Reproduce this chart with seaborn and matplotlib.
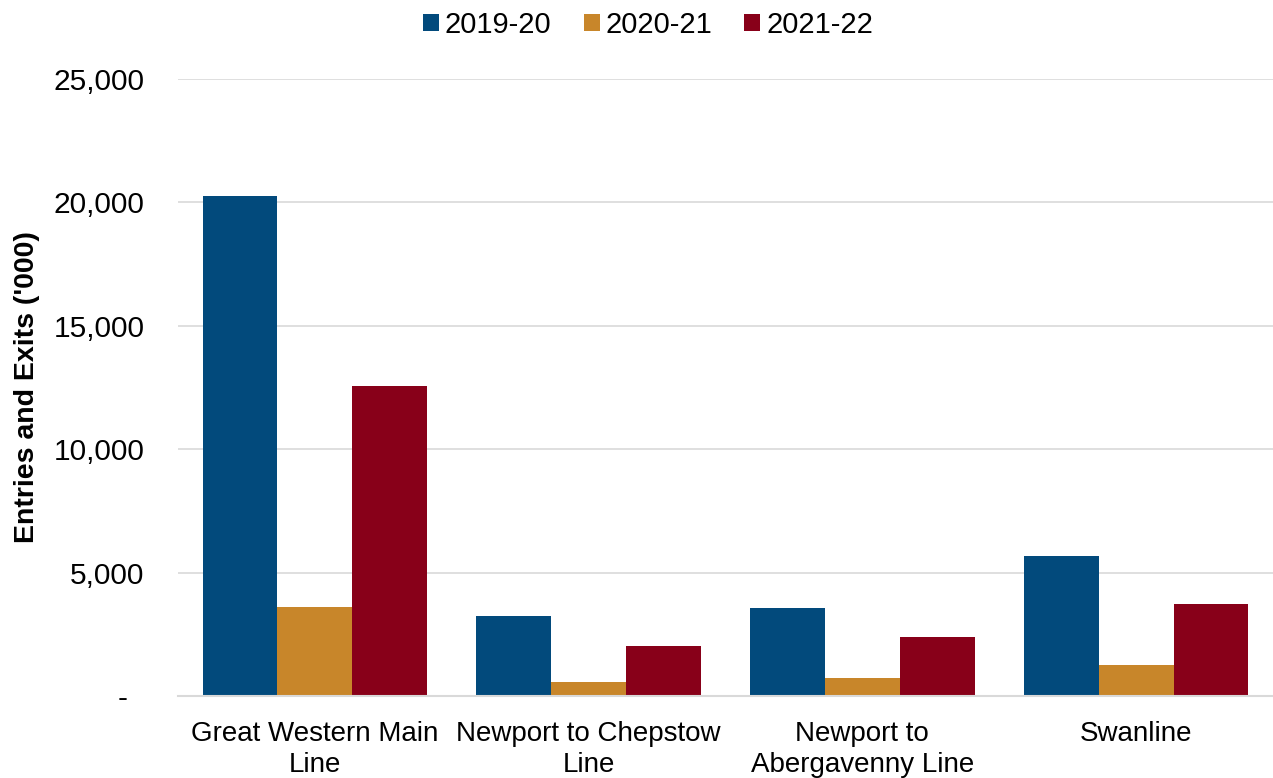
import pandas as pd
import matplotlib.pyplot as plt
import seaborn as sns
from matplotlib.ticker import FuncFormatter

lines = ["Great Western Main\nLine", "Newport to Chepstow\nLine",
         "Newport to\nAbergavenny Line", "Swanline"]
years = ["2019-20", "2020-21", "2021-22"]
v_2019_20 = [20250, 3250, 3580, 5680]
v_2020_21 = [3600, 570, 740, 1260]
v_2021_22 = [12560, 2030, 2390, 3730]
colors = ["#024A7C", "#C8862A", "#880019"]

df = pd.DataFrame({
    "Line": lines * 3,
    "Year": [y for y in years for _ in lines],
    "Value": v_2019_20 + v_2020_21 + v_2021_22,
})

sns.set_theme(style="white")
plt.rcParams["font.family"] = ["Liberation Sans", "DejaVu Sans"]
plt.rcParams["text.color"] = "black"
plt.rcParams["axes.labelcolor"] = "black"

fig = plt.figure(figsize=(12.73, 7.78), dpi=100)
ax = fig.add_axes([0.1398, 0.1054, 0.8602, 0.7931])

sns.barplot(data=df, x="Line", y="Value", hue="Year", palette=colors,
            width=0.82, saturation=1, linewidth=0, ax=ax, legend=True)

ax.set_ylim(0, 25000)
ax.set_xlim(-0.5, 3.5)
ax.set_yticks(range(0, 25001, 5000))
ax.yaxis.set_major_formatter(FuncFormatter(lambda v, p: "-  " if v == 0 else f"{int(v):,}"))
ax.grid(axis="y", color="#D9D9D9", linewidth=1.2)
ax.set_axisbelow(True)
for s in ["top", "right", "left"]:
    ax.spines[s].set_visible(False)
ax.spines["bottom"].set_color("#D9D9D9")
ax.spines["bottom"].set_linewidth(1.5)

ax.tick_params(axis="y", labelsize=21.5, length=0, pad=24, colors="black")
ax.tick_params(axis="x", labelsize=20, length=0, pad=18, colors="black")
for t in ax.get_xticklabels():
    t.set_linespacing(1.25)
ax.set_xlabel("")
ax.set_ylabel("Entries and Exits ('000)", fontsize=20.5, fontweight="bold", labelpad=10)

ax.legend(loc="center", bbox_to_anchor=(0.509, 0.968), bbox_transform=fig.transFigure,
          ncol=3, frameon=False, fontsize=21, handlelength=0.55, handleheight=0.55,
          handletextpad=0.2, columnspacing=1.1, borderaxespad=0)

fig.savefig("out.png", dpi=100)
